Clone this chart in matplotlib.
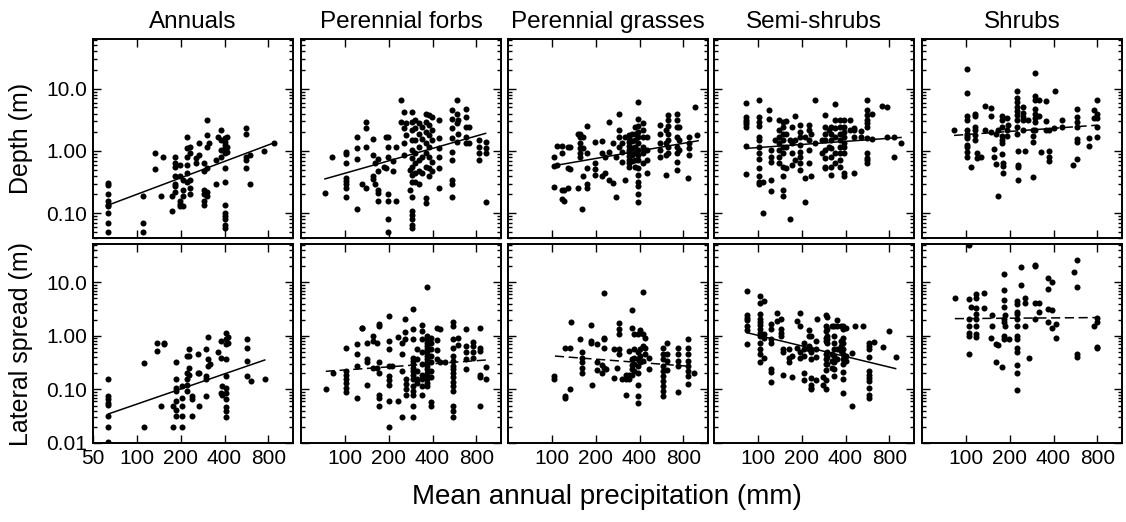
import numpy as np
import matplotlib
matplotlib.use('Agg')
import matplotlib.pyplot as plt
from matplotlib.ticker import FixedLocator, FixedFormatter, LogLocator, NullFormatter

plt.rcParams['font.family'] = ['Liberation Sans', 'DejaVu Sans']

groups = ['Annuals', 'Perennial forbs', 'Perennial grasses', 'Semi-shrubs', 'Shrubs']
row_labels = ['Depth (m)', 'Lateral spread (m)']
x_ticks = [100, 200, 400, 800]
first_x_ticks = [50, 100, 200, 400, 800]
depth_ticks = [0.1, 1, 10]
depth_tick_labels = ['0.10', '1.00', '10.0']
lat_ticks = [0.01, 0.1, 1, 10]
lat_tick_labels = ['0.01', '0.10', '1.00', '10.0']

# columns of points: (mean annual precipitation, [values at that precipitation])
ann_depth = [
    (63, [0.31, 0.28, 0.2, 0.155, 0.137, 0.13, 0.1, 0.07, 0.05]),
    (111, [0.186, 0.07, 0.05]), (134, [0.92, 0.51]), (146, [0.186]), (150, [0.81]),
    (175, [0.11, 0.19]), (184, [0.81, 0.64, 0.56, 0.39, 0.3, 0.27, 0.22]),
    (197, [0.6, 0.39, 0.16, 0.14, 0.13]), (207, [0.34, 0.24, 0.186, 0.13]),
    (221, [1.65, 1.1, 0.81, 0.6, 0.44, 0.32]), (230, [1.17, 0.92, 0.34, 0.25, 0.2]),
    (253, [0.76, 0.63]), (269, [1.33, 0.86]), (291, [0.63, 0.47, 0.24, 0.2, 0.16, 0.137]),
    (302, [3.2, 1.8, 1.17, 0.53, 0.22, 0.186]), (315, [1.33]), (348, [0.72, 0.3]),
    (358, [1.65]), (376, [2.2, 1.5, 1.04, 0.81]),
    (404, [1.6, 1.4, 1.25, 1.1, 0.92, 0.53, 0.32, 0.137, 0.1, 0.09, 0.08, 0.065, 0.058]),
    (419, [1.7, 1.17, 0.98]), (564, [2.3, 1.9, 0.81, 0.72, 0.53]), (594, [0.86, 0.3]),
    (751, [1.0]), (870, [1.33]),
]
ann_lat = [
    (63, [0.154, 0.075, 0.067, 0.056, 0.052, 0.032, 0.02, 0.0105]),
    (112, [0.31, 0.02]), (137, [0.75, 0.52]), (147, [0.05]), (154, [0.75, 0.7]),
    (176, [0.05, 0.02]), (187, [0.32, 0.154, 0.106, 0.093, 0.06, 0.042, 0.032]),
    (205, [0.115, 0.07, 0.05, 0.032, 0.02]), (221, [0.42, 0.2, 0.154, 0.12, 0.093]),
    (228, [0.56, 0.42, 0.25, 0.19]), (238, [0.075, 0.065, 0.032]), (262, [0.45, 0.2]),
    (269, [0.2, 0.05]), (296, [0.56, 0.18, 0.154, 0.075]), (306, [0.97, 0.37, 0.27]),
    (317, [0.3]), (358, [0.49]), (376, [0.8, 0.39, 0.087]), (387, [0.115, 0.08]),
    (407, [1.15, 0.87, 0.7, 0.37, 0.18, 0.106, 0.087, 0.065, 0.047, 0.039, 0.03]),
    (425, [0.97, 0.75]), (572, [0.87, 0.6, 0.34, 0.18]), (605, [0.145]), (755, [0.154]),
]
forb_depth = [
    (73, [0.215]), (82, [0.79]), (102, [0.98, 0.9, 0.65, 0.37, 0.33, 0.29, 0.25, 0.18]),
    (121, [1.65, 1.1, 0.74, 0.118]), (131, [0.3]), (140, [2.9, 2.3, 1.17, 0.25]),
    (155, [1.54, 0.86, 0.4, 0.35]), (161, [0.63, 0.3]), (170, [0.75, 0.47, 0.24, 0.21, 0.16]),
    (186, [0.56]), (192, [1.7, 0.53]), (199, [1.7, 1.17, 0.81, 0.2, 0.16, 0.08, 0.05]),
    (215, [0.7, 0.48]), (226, [1.17, 0.16]), (243, [6.5, 2.95]), (254, [4.25, 2.3, 1.33, 0.86]),
    (263, [2.84, 1.8]), (279, [0.5, 0.24]),
    (290, [4.25, 2.95, 2.2, 1.5, 1.04, 0.76, 0.56, 0.41, 0.32, 0.18, 0.11, 0.095, 0.08, 0.065, 0.058]),
    (305, [3.1, 2.3, 1.5, 0.92, 0.63, 0.44, 0.32]), (322, [2.77, 1.9, 1.17, 0.72, 0.47, 0.29]),
    (338, [2.45, 1.54, 0.81, 0.45]), (362, [4.0, 2.95, 2.0, 1.33, 0.92, 0.56, 0.175, 0.145]),
    (381, [3.8, 2.6, 1.8, 1.17, 0.81, 0.53, 0.39]), (395, [3.5, 2.2, 1.5, 0.67, 0.47]),
    (443, [3.1, 1.6, 1.1, 0.81, 0.53, 0.25]),
    (541, [4.5, 3.3, 2.3, 1.6, 0.98, 0.72, 0.34, 0.29, 0.18]), (584, [6.5, 4.0, 2.77, 1.4]),
    (598, [3.1, 1.9]), (682, [4.8, 3.5, 2.45, 1.7, 1.33]), (711, [2.45, 1.33]),
    (830, [1.5, 1.17, 0.92, 0.72]), (925, [1.4, 1.1, 0.92, 0.15]),
]
forb_lat = [
    (74, [0.1]), (83, [0.2]), (102, [0.6, 0.22, 0.19, 0.154, 0.13, 0.106, 0.089]),
    (122, [0.7, 0.45, 0.27, 0.07]), (132, [1.43, 1.4]), (143, [0.75, 0.37, 0.33, 0.12]),
    (156, [1.0, 0.8, 0.25]), (167, [0.75, 0.25]), (172, [1.65, 1.54, 0.32, 0.2, 0.078, 0.07, 0.05]),
    (201, [2.37, 0.8, 0.58, 0.28, 0.18, 0.15, 0.12, 0.06, 0.02]), (212, [0.27]),
    (230, [0.96, 0.06]), (246, [0.75, 0.45, 0.22, 0.03]), (257, [2.05, 1.19, 0.87]),
    (262, [0.154, 0.124, 0.1, 0.08]),
    (292, [3.16, 1.33, 0.87, 0.39, 0.34, 0.3, 0.25, 0.22, 0.19, 0.154, 0.115, 0.093, 0.08, 0.05, 0.03]),
    (313, [0.56, 0.37, 0.22, 0.16, 0.13]),
    (338, [1.6, 1.24, 0.87, 0.49, 0.3, 0.19, 0.154, 0.115, 0.08]),
    (365, [8.1, 1.0, 0.87, 0.75, 0.65, 0.56, 0.49, 0.42, 0.37, 0.32, 0.27, 0.24, 0.2, 0.18, 0.154, 0.13, 0.115]),
    (390, [0.93, 0.75, 0.56, 0.42, 0.32, 0.22, 0.17, 0.058, 0.05]),
    (432, [1.43, 0.84, 0.55, 0.37]), (450, [1.33, 0.32]), (487, [0.32]),
    (553, [1.83, 1.5, 0.87, 0.6, 0.42, 0.34, 0.28, 0.24, 0.2, 0.17, 0.137, 0.115, 0.093, 0.049, 0.039, 0.03]),
    (600, [0.93, 0.67]), (680, [1.37, 0.65, 0.49, 0.37, 0.24]), (757, [0.77, 0.65, 0.49, 0.39]),
    (842, [1.43, 0.6, 0.52, 0.19, 0.17, 0.05]), (934, [0.26, 0.154]),
]
grass_depth = [
    (103, [0.81, 0.58, 0.26]), (109, [1.2, 0.6]), (118, [1.2, 0.92, 0.17, 0.24]),
    (122, [0.24, 0.16]), (130, [1.17, 0.53, 0.25]), (133, [1.17, 0.51]), (150, [1.9, 0.25]),
    (155, [1.9, 1.7, 1.33, 1.1, 0.92, 0.81]), (160, [0.117]), (164, [1.7, 1.1, 0.39]),
    (175, [2.5, 0.92, 0.53, 0.3, 0.25]), (199, [1.4, 0.63, 0.51, 0.41]),
    (220, [1.43, 0.92, 0.4]), (230, [0.81, 0.44]), (247, [2.87, 0.98, 0.34]),
    (263, [1.33, 0.31]), (275, [0.81, 0.18]), (287, [4.0, 2.17, 1.7, 1.17]),
    (302, [1.33, 0.98, 0.67]), (320, [1.7, 0.34]),
    (340, [1.8, 1.6, 1.4, 1.2, 1.05, 0.95, 0.82, 0.72, 0.63, 0.56]),
    (355, [1.9, 1.45, 1.1, 0.85, 0.7]), (370, [2.45, 1.9, 1.5, 1.17, 0.92, 0.72, 0.56]),
    (393, [6.2, 3.3, 2.5, 2.0, 1.7, 1.33, 1.04, 0.86, 0.72, 0.53, 0.41, 0.32, 0.27, 0.2, 0.15]),
    (420, [2.77, 2.17, 1.7, 1.17, 0.92, 0.63]), (452, [1.7, 1.04, 0.72, 0.44]),
    (555, [2.6, 1.9, 1.33, 1.04, 0.81]), (605, [2.17, 1.33, 0.86, 0.41]),
    (630, [3.8, 3.1, 2.5, 1.9, 1.5, 1.17, 0.92]),
    (727, [4.0, 3.1, 2.45, 1.7, 1.17, 0.92, 0.67, 0.5]), (747, [2.45, 1.5, 1.04]),
    (864, [0.37]), (880, [1.7, 1.33, 1.1, 0.86]), (955, [5.0]), (996, [1.8]),
]
grass_lat = [
    (104, [0.18, 0.16]), (124, [0.6, 0.077, 0.07]), (134, [0.6, 0.1]), (136, [1.78]),
    (155, [0.87]), (160, [0.5, 0.39, 0.32, 0.25, 0.2]), (185, [1.58, 0.8, 0.75]),
    (190, [0.12]), (203, [0.72, 0.32, 0.23]), (222, [0.29, 0.2]),
    (228, [6.3, 0.93, 0.87, 0.6, 0.25]), (237, [0.24]), (268, [0.56, 0.166]), (280, [0.25]),
    (290, [1.73, 1.37, 1.1, 0.58, 0.45]), (303, [0.154]), (323, [0.19, 0.154, 0.078]),
    (340, [0.52, 0.19, 0.154]), (353, [3.07, 1.43, 0.37, 0.29, 0.24, 0.19]),
    (368, [1.07, 0.56, 0.39, 0.3, 0.22]),
    (389, [1.07, 0.49, 0.37, 0.27, 0.2, 0.12, 0.075, 0.055]),
    (400, [1.28, 0.56, 0.42, 0.32]), (422, [6.5, 1.07, 0.65, 0.34]), (438, [0.93, 0.6, 0.45]),
    (464, [0.39, 0.24]), (580, [0.6, 0.45, 0.37, 0.27, 0.22, 0.18, 0.143, 0.115, 0.093, 0.077]),
    (621, [0.75, 0.45, 0.34, 0.23]), (740, [0.6, 0.45, 0.34, 0.27, 0.089]),
    (866, [0.87, 0.6, 0.45, 0.34, 0.27, 0.22, 0.18, 0.127]), (945, [0.2]),
]
semi_depth = [
    (83, [5.8, 3.5, 3.2, 2.95, 2.7, 2.45, 1.2, 0.42]),
    (102, [6.5, 3.5, 2.95, 2.5, 1.7, 1.5, 1.17, 0.92, 0.74, 0.53, 0.4, 0.32, 0.3]),
    (108, [0.1, 0.32]), (119, [4.6, 3.3]), (123, [1.04, 0.81, 0.67, 0.34, 0.23]), (132, [1.5]),
    (139, [3.1, 2.17, 1.7, 1.33, 1.04, 0.81, 0.63]),
    (148, [2.95, 2.45, 1.9, 1.5, 1.17, 0.92, 0.56, 0.4, 0.24, 0.186]),
    (157, [3.05, 1.9, 1.17, 0.53]), (165, [1.5, 0.08]), (172, [2.45, 1.33, 0.92, 0.6]),
    (181, [3.6, 1.5, 0.72]), (196, [2.6, 2.0, 1.7, 1.25, 0.98, 0.81, 0.63, 0.5]),
    (212, [1.7, 0.37, 0.15]), (223, [2.6, 2.17, 1.5, 1.04, 0.63]), (231, [1.9, 0.39]),
    (248, [6.5, 1.33]), (275, [1.5, 0.92]), (290, [3.8, 2.45, 1.9, 1.5, 1.04, 0.76, 0.56, 0.53]),
    (306, [2.17, 1.17]), (319, [2.45, 1.9, 1.5, 1.1, 0.81, 0.56, 0.41]),
    (340, [5.6, 3.1, 2.3, 1.7, 0.92, 0.63]), (368, [3.1, 2.45, 1.9, 1.5, 1.17, 0.92, 0.72, 0.56]),
    (392, [3.1, 2.45, 2.0, 1.7, 1.33, 1.17, 0.92, 0.44, 0.4]), (430, [3.1, 2.17]),
    (458, [2.3, 2.17, 1.65, 0.44]), (510, [2.1, 1.65]),
    (562, [6.5, 4.5, 3.8, 3.1, 2.77, 2.45, 1.6, 0.92, 0.76, 0.72, 0.63]),
    (607, [4.0, 1.54]), (710, [5.2]), (770, [5.1, 1.7]), (860, [1.7, 0.81]), (960, [1.33]),
]
semi_lat = [
    (84, [7.0, 2.44, 2.2, 2.0, 1.5, 1.3, 0.7]),
    (103, [5.6, 4.1, 2.55, 2.05, 1.78, 1.58, 1.33, 1.15, 1.0, 0.75, 0.56, 0.45, 0.33]),
    (110, [4.5, 1.07, 0.9, 0.39]), (124, [1.65, 1.33, 0.89, 0.73, 0.24, 0.21, 0.137]),
    (136, [2.66, 1.9]), (145, [2.05, 1.33, 1.15, 1.0]), (149, [0.56, 0.49, 0.19]),
    (164, [0.56, 0.39, 0.32]), (172, [0.42, 0.17]), (186, [1.9, 0.6]),
    (194, [2.66, 1.5, 0.49, 0.39]), (207, [0.75, 0.56, 0.42, 0.2, 0.148]),
    (225, [1.3, 1.0, 0.65, 0.56]), (230, [1.0, 0.56, 0.49, 0.37, 0.166, 0.12, 0.107, 0.1]),
    (249, [0.8, 0.56, 0.41, 0.15]), (256, [2.05]), (278, [0.17, 0.12]),
    (292, [2.44, 1.5, 1.24, 0.93, 0.8, 0.45, 0.37, 0.3, 0.23, 0.15, 0.1]),
    (300, [2.3, 1.37, 1.0, 0.87, 0.75, 0.49, 0.41, 0.3]), (322, [1.54, 0.45, 0.34, 0.25]),
    (333, [1.54, 1.0, 0.75, 0.56, 0.42, 0.32, 0.24, 0.18]), (352, [2.0, 1.54, 0.56, 0.37]),
    (371, [1.54, 0.8, 0.65, 0.52]),
    (387, [1.54, 1.37, 0.93, 0.75, 0.56, 0.45, 0.37, 0.3, 0.21, 0.154, 0.087]),
    (402, [1.43, 0.42, 0.34]), (442, [0.47, 0.049]), (466, [1.5]), (528, [1.54]),
    (576, [0.75, 0.65, 0.56, 0.41, 0.22, 0.19, 0.166, 0.143, 0.107, 0.08, 0.07]),
    (630, [0.77]), (720, [0.63]), (791, [1.24]), (882, [0.4]),
]
shrub_depth = [
    (83, [2.17]), (102, [20.5, 8.4, 3.6, 3.1, 2.17, 1.9, 1.74, 1.6, 1.25, 1.17, 0.98, 0.81]),
    (109, [0.56]), (116, [4.0, 3.6, 2.45, 2.17, 1.8, 1.5]), (120, [0.92, 0.76]), (128, [0.81]),
    (135, [5.2, 2.17]), (148, [4.9, 3.6, 2.04]), (156, [1.08, 0.81]), (160, [1.9, 0.62]),
    (166, [2.17]), (167, [0.186]), (178, [3.6, 3.2, 2.45, 1.74, 1.5, 1.33, 0.9]),
    (180, [0.64, 0.58, 0.44]), (193, [3.45, 2.17, 1.74]), (196, [2.6]),
    (223, [9.2, 7.0, 6.2, 5.1, 4.4, 3.8, 3.1, 2.45, 1.9]), (229, [1.0, 0.6, 0.56, 0.34]),
    (247, [5.1, 4.1, 3.5, 3.1, 2.17]), (253, [1.0]), (269, [3.2]), (290, [2.17, 1.74, 1.4, 0.38]),
    (296, [17.9, 7.6, 6.5, 4.8, 4.0, 3.45, 2.95, 2.17]), (318, [6.5, 3.6]), (326, [0.98]),
    (354, [6.3, 3.05, 2.17]), (370, [2.2, 1.0, 0.79, 0.7]), (400, [2.3]), (410, [9.2]),
    (460, [3.1, 2.45]), (540, [0.6]), (575, [4.8, 3.5, 2.95, 2.45, 1.54, 1.4, 0.74]),
    (700, [1.63, 1.2]), (762, [4.5, 3.45]), (800, [6.5, 4.0, 3.45, 2.45, 1.65]),
]
shrub_lat = [
    (84, [5.0]), (105, [50, 4.9, 2.1, 1.5, 1.15, 1.0, 0.45]), (109, [3.4]),
    (118, [6.0, 5.2, 3.25, 2.55, 2.05, 1.54, 1.07, 0.97]), (134, [6.3, 3.25]), (148, [0.93]),
    (152, [2.44, 1.5]), (160, [0.7, 0.33]), (167, [0.69]), (178, [0.26]),
    (182, [14.3, 7.2, 4.66, 3.4, 2.1, 1.78, 1.0, 0.89]), (187, [2.44, 1.5]), (197, [0.89]),
    (226, [4.5, 3.9, 2.8, 2.55, 2.05, 1.54, 1.0, 0.87, 0.6, 0.49, 0.29, 0.2, 0.097]),
    (238, [19.1, 9.0]), (254, [5.2, 4.2, 1.5]), (272, [0.39]), (299, [21, 20, 4.1, 2.05]),
    (319, [4.1, 2.74]), (364, [11.9, 7.5, 3.16, 1.83]), (388, [10.3, 3.07, 1.43]),
    (413, [1.65]), (417, [0.9]), (554, [15.8]), (583, [26.7, 8.3, 0.45, 0.41]),
    (763, [1.54]), (801, [2.2, 1.83, 0.63, 0.6]),
]

# regression lines: (precipitation at both ends, value at both ends)
ann_depth_fit = ([63, 864], [0.134, 1.34])
ann_lat_fit = ([64, 755], [0.035, 0.355])
forb_depth_fit = ([73, 925], [0.356, 1.92])
forb_lat_fit = ([74, 934], [0.218, 0.355])
grass_depth_fit = ([103, 1010], [0.58, 1.46])
grass_lat_fit = ([105, 890], [0.42, 0.27])
semi_depth_fit = ([83, 960], [1.1, 1.65])
semi_lat_fit = ([84, 882], [1.15, 0.245])
shrub_depth_fit = ([83, 800], [1.78, 2.6])
shrub_lat_fit = ([84, 801], [2.1, 2.2])
# dashed = non significant
fit_dashed = [[False, False, False, False, True],
              [False, True, True, False, True]]

panels = [[ann_depth, forb_depth, grass_depth, semi_depth, shrub_depth],
          [ann_lat, forb_lat, grass_lat, semi_lat, shrub_lat]]
fits = [[ann_depth_fit, forb_depth_fit, grass_depth_fit, semi_depth_fit, shrub_depth_fit],
        [ann_lat_fit, forb_lat_fit, grass_lat_fit, semi_lat_fit, shrub_lat_fit]]

W, H = 1126, 522
fig = plt.figure(figsize=(W / 100, H / 100), dpi=100)

lefts = [93, 301, 508, 714, 922]
tops = [39, 244]
pw, ph = 200, 199
ylims = [(0.04, 63), (0.01, 52)]

for r in range(2):
    for c in range(5):
        ax = fig.add_axes([lefts[c] / W, 1 - (tops[r] + ph) / H, pw / W, ph / H])
        cols = panels[r][c]
        xs = [x for x, ys in cols for _ in ys]
        ys = [y for _, yy in cols for y in yy]
        ax.scatter(xs, ys, s=19, color='black', linewidths=0, zorder=3)
        fx, fy = fits[r][c]
        ls = (0, (6, 3)) if fit_dashed[r][c] else '-'
        ax.plot(fx, fy, color='black', lw=1.1, ls=ls, zorder=2)

        ax.set_xscale('log')
        ax.set_yscale('log')
        ax.set_xlim(50, 1180)
        ax.set_ylim(*ylims[r])

        ax.xaxis.set_major_locator(FixedLocator(x_ticks))
        ax.xaxis.set_minor_locator(FixedLocator([]))
        ax.yaxis.set_major_locator(FixedLocator(depth_ticks if r == 0 else lat_ticks))
        ax.yaxis.set_minor_locator(LogLocator(base=10, subs=np.arange(2, 10)))
        ax.yaxis.set_minor_formatter(NullFormatter())
        ax.xaxis.set_minor_formatter(NullFormatter())

        if r == 1:
            if c == 0:
                ax.xaxis.set_major_locator(FixedLocator(first_x_ticks))
                ax.xaxis.set_major_formatter(FixedFormatter([str(t) for t in first_x_ticks]))
            else:
                ax.xaxis.set_major_formatter(FixedFormatter([str(t) for t in x_ticks]))
        else:
            ax.xaxis.set_major_formatter(NullFormatter())

        if c == 0:
            ax.yaxis.set_major_formatter(FixedFormatter(depth_tick_labels if r == 0 else lat_tick_labels))
            ax.set_ylabel(row_labels[r], fontsize=18)
            ax.yaxis.set_label_coords(-0.30, 0.5)
        else:
            ax.yaxis.set_major_formatter(NullFormatter())

        ax.tick_params(which='both', direction='in', top=True, right=True, labelsize=15, width=1, pad=4)
        ax.tick_params(which='major', length=6)
        ax.tick_params(which='minor', length=3)
        for sp in ax.spines.values():
            sp.set_linewidth(1.4)
        if r == 0:
            ax.set_title(groups[c], fontsize=17.5, pad=8)

fig.text(607 / W, 1 - 497 / H, 'Mean annual precipitation (mm)', fontsize=20, ha='center', va='center')

fig.savefig('out.png', dpi=100)
